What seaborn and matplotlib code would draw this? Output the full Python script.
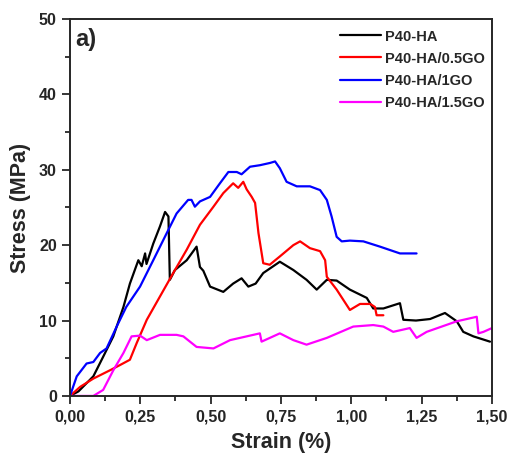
import numpy as np
import pandas as pd
import seaborn as sns
import matplotlib.pyplot as plt
from matplotlib.ticker import MultipleLocator, FuncFormatter

# Stress-strain data
ha_strain = [0, 0.03, 0.083, 0.118, 0.154, 0.19, 0.213, 0.243, 0.255, 0.267, 0.272, 0.296, 0.32, 0.338, 0.35,
             0.355, 0.373, 0.415, 0.45, 0.462, 0.474, 0.498, 0.545, 0.58, 0.61, 0.634, 0.66, 0.687,
             0.746, 0.794, 0.841, 0.877, 0.913, 0.948, 0.995, 1.055, 1.078, 1.114, 1.173, 1.185,
             1.23, 1.28, 1.333, 1.375, 1.398, 1.434, 1.493]
ha_stress = [0, 0.6, 2.6, 5.2, 7.9, 11.8, 14.9, 18.0, 17.2, 18.9, 17.5, 20.2, 22.5, 24.4, 23.8,
             15.4, 16.7, 18.0, 19.8, 17.1, 16.6, 14.5, 13.8, 14.9, 15.6, 14.5, 14.9, 16.3,
             17.8, 16.7, 15.4, 14.1, 15.4, 15.3, 14.1, 13.0, 11.6, 11.6, 12.3, 10.1,
             10.0, 10.2, 11.0, 9.9, 8.5, 7.9, 7.2]

go05_strain = [0, 0.036, 0.083, 0.142, 0.178, 0.213, 0.237, 0.273, 0.32, 0.367, 0.415, 0.462, 0.51,
               0.545, 0.58, 0.598, 0.616, 0.628, 0.646, 0.658, 0.67, 0.687, 0.71, 0.746, 0.794,
               0.818, 0.853, 0.889, 0.907, 0.913, 0.948, 0.995, 1.031, 1.067, 1.084, 1.09, 1.114]
go05_stress = [0, 1.2, 2.3, 3.4, 4.1, 4.8, 7.0, 10.1, 13.2, 16.3, 19.4, 22.7, 25.1,
               26.9, 28.2, 27.6, 28.4, 27.4, 26.4, 25.6, 21.6, 17.6, 17.4, 18.5, 20.0,
               20.5, 19.6, 19.2, 18.0, 15.8, 14.1, 11.4, 12.2, 12.2, 11.8, 10.7, 10.7]

go1_strain = [0, 0.024, 0.059, 0.083, 0.107, 0.13, 0.166, 0.2, 0.249, 0.296, 0.344, 0.379, 0.42,
              0.432, 0.444, 0.462, 0.498, 0.533, 0.563, 0.593, 0.61, 0.64, 0.675, 0.711, 0.729,
              0.746, 0.77, 0.806, 0.853, 0.889, 0.913, 0.93, 0.948, 0.966, 0.995, 1.043, 1.102,
              1.173, 1.232]
go1_stress = [0, 2.6, 4.3, 4.5, 5.7, 6.3, 9.2, 11.8, 14.5, 18.0, 21.6, 24.2, 26.0,
              26.0, 25.1, 25.8, 26.4, 28.2, 29.7, 29.7, 29.4, 30.4, 30.6, 30.9, 31.1,
              30.2, 28.4, 27.8, 27.8, 27.3, 26.0, 23.8, 21.1, 20.5, 20.6, 20.5, 19.8,
              18.9, 18.9]

go15_strain = [0, 0.083, 0.118, 0.154, 0.19, 0.219, 0.249, 0.273, 0.32, 0.379, 0.403, 0.45, 0.51,
               0.569, 0.628, 0.675, 0.681, 0.746, 0.794, 0.841, 0.913, 1.007, 1.078, 1.114,
               1.149, 1.208, 1.232, 1.268, 1.375, 1.446, 1.452, 1.47, 1.5]
go15_stress = [0, 0, 0.8, 3.4, 5.7, 7.9, 8.0, 7.4, 8.1, 8.1, 7.9, 6.5, 6.3,
               7.4, 7.9, 8.3, 7.2, 8.3, 7.4, 6.8, 7.7, 9.2, 9.4, 9.2,
               8.5, 9.0, 7.7, 8.5, 9.9, 10.5, 8.3, 8.5, 9.0]

labels = ['P40-HA', 'P40-HA/0.5GO', 'P40-HA/1GO', 'P40-HA/1.5GO']
colors = ['black', 'red', 'blue', 'magenta']

frames = []
for lab, xs, ys in zip(labels,
                       [ha_strain, go05_strain, go1_strain, go15_strain],
                       [ha_stress, go05_stress, go1_stress, go15_stress]):
    frames.append(pd.DataFrame({'strain': xs, 'stress': ys, 'sample': lab}))
df = pd.concat(frames, ignore_index=True)

sns.set_style('ticks')
plt.rcParams['font.family'] = ['Liberation Sans', 'DejaVu Sans']
plt.rcParams['font.weight'] = 'bold'

fig = plt.figure(figsize=(5.09, 4.62), dpi=100)
ax = fig.add_axes([0.1375, 0.143, 0.829, 0.816])

sns.lineplot(data=df, x='strain', y='stress', hue='sample', hue_order=labels,
             palette=colors, sort=False, estimator=None, linewidth=1.6, ax=ax)

ax.set_xlim(0, 1.5)
ax.set_ylim(0, 50)
ax.xaxis.set_major_locator(MultipleLocator(0.25))
ax.xaxis.set_minor_locator(MultipleLocator(0.125))
ax.yaxis.set_major_locator(MultipleLocator(10))
ax.yaxis.set_minor_locator(MultipleLocator(5))
ax.xaxis.set_major_formatter(FuncFormatter(lambda v, p: f'{v:.2f}'.replace('.', ',')))
ax.tick_params(which='major', length=6, width=1.3, labelsize=11.5, direction='out')
ax.tick_params(which='minor', length=3.5, width=1.3, direction='out')
for s in ax.spines.values():
    s.set_linewidth(1.4)
    s.set_visible(True)

ax.set_xlabel('Strain (%)', fontsize=15.5, fontweight='bold', labelpad=6)
ax.set_ylabel('Stress (MPa)', fontsize=15.5, fontweight='bold', labelpad=6)
ax.text(0.012, 0.975, 'a)', transform=ax.transAxes, fontsize=17, fontweight='bold',
        va='top', ha='left')

ax.legend(loc='upper right', bbox_to_anchor=(1.005, 0.995), frameon=False,
          handlelength=2.8, handletextpad=0.3, labelspacing=0.55, borderaxespad=0.2,
          prop={'weight': 'bold', 'size': 10.5})

fig.savefig('out.png', dpi=100)
